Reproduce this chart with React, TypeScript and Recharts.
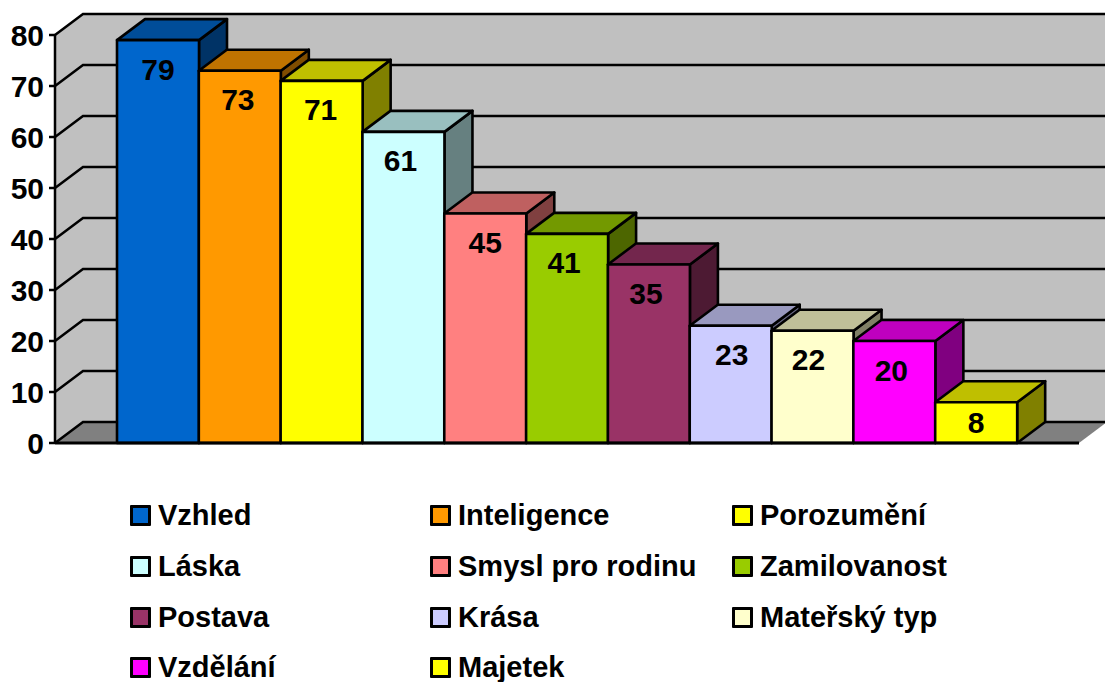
import React from "react";
import {
  BarChart,
  Bar,
  XAxis,
  YAxis,
  CartesianGrid,
  LabelList,
  ReferenceArea,
} from "recharts";

const categories = [
  "Vzhled",
  "Inteligence",
  "Porozumění",
  "Láska",
  "Smysl pro rodinu",
  "Zamilovanost",
  "Postava",
  "Krása",
  "Mateřský typ",
  "Vzdělání",
  "Majetek",
];
const values = [79, 73, 71, 61, 45, 41, 35, 23, 22, 20, 8];
const colors = [
  "#0066CC",
  "#FF9900",
  "#FFFF00",
  "#CCFFFF",
  "#FF8080",
  "#99CC00",
  "#993366",
  "#CCCCFF",
  "#FFFFCC",
  "#FF00FF",
  "#FFFF00",
];
const yTicks = [0, 10, 20, 30, 40, 50, 60, 70, 80];

const data = categories.map((name, i) => ({ name, value: values[i] }));

const FONT = '"Liberation Sans", Arial, sans-serif';
const DX = 28;
const DY = -21;
const PAD = 62;
const LEGEND_X = [130, 430, 732];
const LEGEND_Y = [515, 566, 617, 667];
// the original's data labels are not quite centred on their bars
const LABEL_NUDGE = [0, -2, -1, -3, 0, -3, -3, 1, -4, -3, 0];

// darken a hex colour, used for the top and side faces of the bars
function shade(hex: string, k: number) {
  const n = parseInt(hex.slice(1), 16);
  const c = [(n >> 16) & 255, (n >> 8) & 255, n & 255].map((v) => Math.round(v * k));
  return `rgb(${c[0]},${c[1]},${c[2]})`;
}

function Bar3D(props: any) {
  const { x, y, width, height, index } = props;
  const color = colors[index];
  const r = x + width;
  const b = y + height;
  const pts = (p: number[][]) => p.map((q) => q.join(",")).join(" ");
  return (
    <g stroke="#000" strokeWidth={2.6} strokeLinejoin="round">
      <polygon
        points={pts([[r, y], [r + DX, y + DY], [r + DX, b + DY], [r, b]])}
        fill={shade(color, 0.5)}
      />
      <polygon
        points={pts([[x, y], [x + DX, y + DY], [r + DX, y + DY], [r, y]])}
        fill={shade(color, 0.75)}
      />
      <rect x={x} y={y} width={width} height={height} fill={color} />
    </g>
  );
}

// back wall and floor; the area spans the padded x range, so widen it by PAD
function Walls(props: any) {
  const { y, height } = props;
  const x = props.x - PAD;
  const r = props.x + props.width + PAD;
  const b = y + height;
  return (
    <g>
      <polygon
        points={`${x},${y} ${x + DX},${y + DY} ${r + DX},${y + DY} ${r + DX},${b + DY} ${x + DX},${b + DY} ${x},${b}`}
        fill="#C0C0C0"
      />
      <polygon
        points={`${x},${b} ${x + DX},${b + DY} ${r + DX},${b + DY} ${r},${b}`}
        fill="#808080"
      />
    </g>
  );
}

function GridLine(props: any) {
  const { x1, x2, y1 } = props;
  return (
    <path
      d={`M${x1},${y1} L${x1 + DX},${y1 + DY} L${x2 + DX},${y1 + DY}`}
      fill="none"
      stroke="#000"
      strokeWidth={2.5}
    />
  );
}

function BarValue(props: any) {
  const { x, y, width, height, value, index } = props;
  return (
    <text
      x={x + width / 2 + LABEL_NUDGE[index]}
      y={y + Math.min(29, height / 2)}
      textAnchor="middle"
      dominantBaseline="central"
      fontFamily={FONT}
      fontWeight="bold"
      fontSize={30}
      fill="#000"
    >
      {value}
    </text>
  );
}

function ChartLegend() {
  return (
    <>
      {categories.map((name, i) => {
        const left = LEGEND_X[i % 3];
        const top = LEGEND_Y[Math.floor(i / 3)];
        return (
          <div
            key={name}
            style={{
              position: "absolute",
              left,
              top: top - 20,
              height: 40,
              display: "flex",
              alignItems: "center",
              fontFamily: FONT,
              fontWeight: "bold",
              fontSize: 29,
              color: "#000",
              whiteSpace: "nowrap",
            }}
          >
            <span
              style={{
                width: 15,
                height: 15,
                border: "3px solid #000",
                background: colors[i],
                marginRight: 7,
                borderRadius: 1,
              }}
            />
            {name}
          </div>
        );
      })}
    </>
  );
}

export default function App() {
  return (
    <div
      style={{
        position: "absolute",
        left: 0,
        top: 0,
        width: 1105,
        height: 682,
        background: "#fff",
        overflow: "hidden",
      }}
    >
      <BarChart
        width={1105}
        height={682}
        data={data}
        barCategoryGap={0}
        margin={{ top: 35, right: 26, bottom: 238, left: 0 }}
      >
        <ReferenceArea y1={0} y2={80} shape={<Walls />} ifOverflow="visible" zIndex={-200} />
        <CartesianGrid vertical={false} horizontal={<GridLine />} />
        <XAxis
          dataKey="name"
          tick={false}
          tickLine={false}
          height={1}
          padding={{ left: PAD, right: PAD }}
          axisLine={{ stroke: "#000", strokeWidth: 3 }}
        />
        <YAxis
          width={55}
          domain={[0, 80]}
          ticks={yTicks}
          interval={0}
          tickSize={6}
          tickMargin={5}
          axisLine={{ stroke: "#000", strokeWidth: 2.5 }}
          tickLine={{ stroke: "#000", strokeWidth: 2.5 }}
          tick={{ fontFamily: FONT, fontWeight: "bold", fontSize: 30, fill: "#000" }}
        />
        <Bar dataKey="value" shape={<Bar3D />} isAnimationActive={false}>
          <LabelList dataKey="value" content={<BarValue />} />
        </Bar>
      </BarChart>
      <ChartLegend />
    </div>
  );
}
